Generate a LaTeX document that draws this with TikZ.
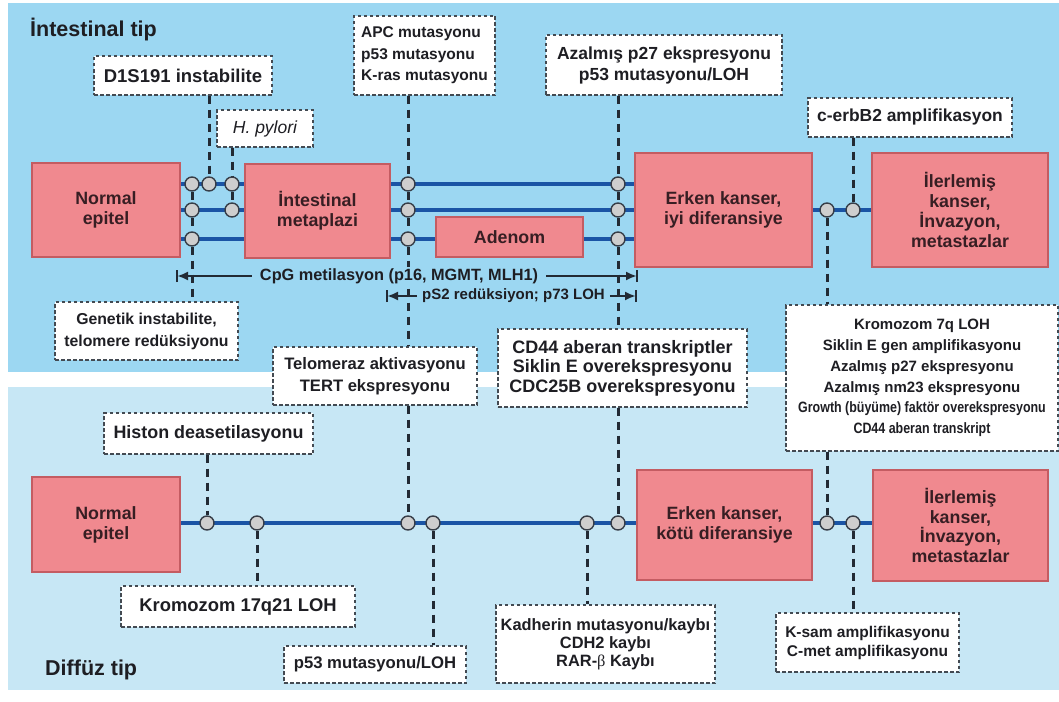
\documentclass[tikz,border=0pt]{standalone}
\usepackage{fontspec}
\setmainfont{Liberation Sans}
\newfontfamily\narrowfont[FakeStretch=0.83]{Liberation Sans}
\newfontfamily\greekserif{Liberation Serif}
\usetikzlibrary{arrows.meta}
\definecolor{topbg}{RGB}{156,215,242}
\definecolor{lowbg}{RGB}{199,231,245}
\definecolor{pinkfill}{RGB}{240,137,143}
\definecolor{pinkdraw}{RGB}{196,92,98}
\definecolor{laneblue}{RGB}{26,84,165}
\definecolor{dashcol}{RGB}{34,42,52}
\definecolor{dotfill}{RGB}{206,206,206}
\definecolor{dotdraw}{RGB}{55,62,72}
\definecolor{txtdark}{RGB}{30,30,35}
\definecolor{pinktxt}{RGB}{55,30,35}
\pgfdeclarelayer{bg}
\pgfdeclarelayer{lines}
\pgfsetlayers{bg,lines,main}
\begin{document}
\begin{tikzpicture}[x=1pt,y=-1pt,
  stage/.style={draw=pinkdraw,line width=1.2pt,fill=pinkfill,text=pinktxt,align=center,inner sep=0pt,font=\bfseries\fontsize{17.8}{19.8}\selectfont},
  note/.style={draw=dashcol!85,dash pattern=on 3.5pt off 2.5pt,line width=1.4pt,fill=white,text=txtdark,align=center,inner sep=0pt},
  dot/.style={circle,draw=dotdraw,line width=1.4pt,fill=dotfill,minimum size=14pt,inner sep=0pt},
  lane/.style={draw=laneblue,line width=3.6pt},
  link/.style={draw=dashcol,line width=3pt,dash pattern=on 8pt off 6pt},
  span/.style={draw=dashcol,line width=2.2pt},
  spantip/.style={span,-{Latex[length=11pt,width=9pt]}},
  title/.style={anchor=west,inner sep=0pt,text=txtdark,font=\bfseries\fontsize{21.5}{25}\selectfont},
]
\useasboundingbox (0,0) rectangle (1059,701);
\begin{pgfonlayer}{bg}
\fill[white] (0,0) rectangle (1059,701);
\fill[topbg] (8,3) rectangle (1059,372);
\fill[lowbg] (8,387) rectangle (1059,690);
\end{pgfonlayer}

% titles
\node[title] (t1) at (30,30) {İntestinal tip};
\node[title] (t2) at (45,670) {Diffüz tip};

% stage boxes
\node[stage,minimum width=148pt,minimum height=94pt] (ne1) at (106,210) {Normal\\epitel};
\node[stage,minimum width=145pt,minimum height=94pt] (im) at (317.5,211) {İntestinal\\metaplazi};
\node[stage,minimum width=147pt,minimum height=40pt] (ad) at (509.5,237) {Adenom};
\node[stage,minimum width=177pt,minimum height=114pt] (ek1) at (723.5,210) {Erken kanser,\\iyi diferansiye};
\node[stage,minimum width=176pt,minimum height=114pt] (il1) at (960,210) {İlerlemiş\\kanser,\\İnvazyon,\\metastazlar};
\node[stage,minimum width=148pt,minimum height=95pt] (ne2) at (106,524.5) {Normal\\epitel};
\node[stage,minimum width=175pt,minimum height=110pt] (ek2) at (724.5,525) {Erken kanser,\\kötü diferansiye};
\node[stage,minimum width=175pt,minimum height=111pt] (il2) at (960.5,525.5) {İlerlemiş\\kanser,\\İnvazyon,\\metastazlar};

% note boxes
\node[note,minimum width=178pt,minimum height=39pt,font=\bfseries\fontsize{18.5}{20}\selectfont] (d1s) at (183,75.5) {D1S191 instabilite};
\node[note,minimum width=96pt,minimum height=37pt,font=\itshape\fontsize{17.5}{20}\selectfont] (hp) at (265,128.5) {H. pylori};
\node[note,minimum width=141pt,minimum height=79pt,align=left,font=\bfseries\fontsize{15.5}{21.5}\selectfont] (apc) at (424.5,55.5) {APC mutasyonu\\p53 mutasyonu\\K-ras mutasyonu};
\node[note,minimum width=236pt,minimum height=60pt,font=\bfseries\fontsize{17.5}{21}\selectfont] (az) at (664,65) {Azalmış p27 ekspresyonu\\p53 mutasyonu/LOH};
\node[note,minimum width=204pt,minimum height=39pt,font=\bfseries\fontsize{17.4}{20}\selectfont] (ce) at (910,117.5) {c-erbB2 amplifikasyon};
\node[note,minimum width=183pt,minimum height=58pt,font=\bfseries\fontsize{15.8}{22}\selectfont] (gen) at (146.5,331) {Genetik instabilite,\\telomere redüksiyonu};
\node[note,minimum width=204pt,minimum height=58pt,font=\bfseries\fontsize{16.6}{22}\selectfont] (tel) at (375,376) {Telomeraz aktivasyonu\\TERT ekspresyonu};
\node[note,minimum width=249pt,minimum height=78pt,font=\bfseries\fontsize{18}{19.5}\selectfont] (cd44) at (622.5,368) {CD44 aberan transkriptler\\Siklin E overekspresyonu\\CDC25B overekspresyonu};
\node[note,minimum width=272pt,minimum height=146pt,font=\bfseries\fontsize{15}{20.7}\selectfont] (kr7) at (922,378) {Kromozom 7q LOH\\Siklin E gen amplifikasyonu\\Azalmış p27 ekspresyonu\\Azalmış nm23 ekspresyonu\\{\narrowfont\bfseries Growth (büyüme) faktör overekspresyonu}\\{\narrowfont\bfseries CD44 aberan transkript}};
\node[note,minimum width=209pt,minimum height=41pt,font=\bfseries\fontsize{17.9}{20}\selectfont] (his) at (208.5,433.5) {Histon deasetilasyonu};
\node[note,minimum width=234pt,minimum height=41pt,font=\bfseries\fontsize{18.4}{20}\selectfont] (k17) at (238,606.5) {Kromozom 17q21 LOH};
\node[note,minimum width=182pt,minimum height=37pt,font=\bfseries\fontsize{16.7}{20}\selectfont] (p53) at (375,664.5) {p53 mutasyonu/LOH};
\node[note,minimum width=219pt,minimum height=78pt,font=\bfseries\fontsize{16.4}{18}\selectfont] (kad) at (605.5,644) {Kadherin mutasyonu/kaybı\\CDH2 kaybı\\RAR-{\greekserif\mdseries β} Kaybı};
\node[note,minimum width=183pt,minimum height=59pt,font=\bfseries\fontsize{15.5}{19}\selectfont] (ks) at (867.5,642.5) {K-sam amplifikasyonu\\C-met amplifikasyonu};

% dots, intestinal
\node[dot] (a1) at (192,184) {};
\node[dot] (a2) at (209,184) {};
\node[dot] (a3) at (232,184) {};
\node[dot] (b1) at (192,210) {};
\node[dot] (b3) at (232,210) {};
\node[dot] (e1) at (192,239) {};
\node[dot] (a4) at (408,184) {};
\node[dot] (b4) at (408,210) {};
\node[dot] (e4) at (408,239) {};
\node[dot] (a5) at (618,184) {};
\node[dot] (b5) at (618,210) {};
\node[dot] (e5) at (618,239) {};
\node[dot] (f1) at (827,210) {};
\node[dot] (f2) at (853,210) {};
% dots, diffuse
\node[dot] (g1) at (207,523) {};
\node[dot] (g2) at (257,523) {};
\node[dot] (g3) at (408,523) {};
\node[dot] (g4) at (433,523) {};
\node[dot] (g5) at (587,523) {};
\node[dot] (g6) at (618,523) {};
\node[dot] (g7) at (827,523) {};
\node[dot] (g8) at (853,523) {};

% span labels
\node[inner xsep=8pt,inner ysep=1pt,fill=topbg,text=txtdark,font=\bfseries\fontsize{16.3}{19}\selectfont] (cpg) at (399,276) {CpG metilasyon (p16, MGMT, MLH1)};
\coordinate (cpgL) at (177,276);
\coordinate (cpgR) at (637,276);
\node[inner xsep=5pt,inner ysep=1pt,text=txtdark,font=\bfseries\fontsize{15}{18}\selectfont] (ps2) at (513.5,296) {pS2 redüksiyon; p73 LOH};
\coordinate (psL) at (387,296);
\coordinate (psR) at (636,296);

\begin{pgfonlayer}{lines}
% lanes
\draw[lane] (ne1.east |- a1) -- (im.west |- a1);
\draw[lane] (ne1.east |- b1) -- (im.west |- b1);
\draw[lane] (ne1.east |- e1) -- (im.west |- e1);
\draw[lane] (im.east |- a4) -- (ek1.west |- a4);
\draw[lane] (im.east |- b4) -- (ek1.west |- b4);
\draw[lane] (im.east |- e4) -- (ad.west |- e4);
\draw[lane] (ad.east |- e5) -- (ek1.west |- e5);
\draw[lane] (ek1.east |- f1) -- (il1.west |- f1);
\draw[lane] (ne2.east |- g1) -- (ek2.west |- g1);
\draw[lane] (ek2.east |- g7) -- (il2.west |- g7);
% dashed links
\draw[link] (a2 |- d1s.south) -- (a2);
\draw[link] (a3 |- hp.south) -- (a3) -- (b3);
\draw[link] (a1) -- (b1) -- (e1) -- (a1 |- gen.north);
\draw[link] (a4 |- apc.south) -- (a4) -- (b4) -- (e4) -- (a4 |- tel.north);
\draw[link] (g3 |- tel.south) -- (g3);
\draw[link] (a5 |- az.south) -- (a5) -- (b5) -- (e5) -- (a5 |- cd44.north);
\draw[link] (g6 |- cd44.south) -- (g6);
\draw[link] (f2 |- ce.south) -- (f2);
\draw[link] (f1) -- (f1 |- kr7.north);
\draw[link] (g7 |- kr7.south) -- (g7);
\draw[link] (g1 |- his.south) -- (g1);
\draw[link] (g2) -- (g2 |- k17.north);
\draw[link] (g4) -- (g4 |- p53.north);
\draw[link] (g5) -- (g5 |- kad.north);
\draw[link] (g8) -- (g8 |- ks.north);
% span arrows
\draw[spantip] (cpg.west) -- (cpgL);
\draw[spantip] (cpg.east) -- (cpgR);
\draw[span] ([yshift=-6pt]cpgL) -- ([yshift=6pt]cpgL);
\draw[span] ([yshift=-6pt]cpgR) -- ([yshift=6pt]cpgR);
\draw[spantip] (ps2.west) -- (psL);
\draw[spantip] (ps2.east) -- (psR);
\draw[span] ([yshift=-6pt]psL) -- ([yshift=6pt]psL);
\draw[span] ([yshift=-6pt]psR) -- ([yshift=6pt]psR);
\end{pgfonlayer}
\end{tikzpicture}
\end{document}
